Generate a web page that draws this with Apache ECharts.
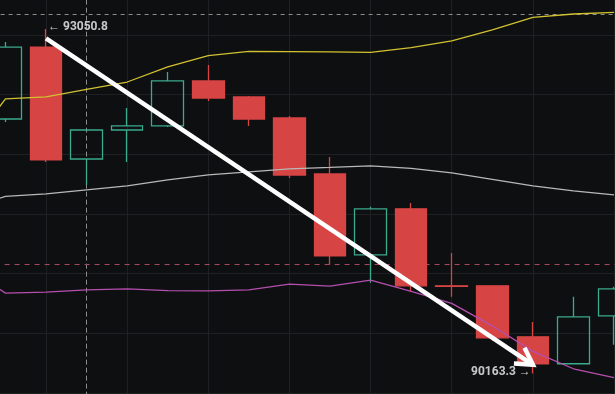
<!DOCTYPE html>
<html>
<head>
<meta charset="utf-8">
<script src="https://cdn.jsdelivr.net/npm/echarts/dist/echarts.min.js"></script>
<style>
html,body{margin:0;padding:0;background:#0e0f11;}
#chart{width:615px;height:394px;}
</style>
</head>
<body>
<div id="chart"></div>
<script>
// ---- data ----
const categories = ['t0','t1','t2','t3','t4','t5','t6','t7','t8','t9','t10','t11','t12','t13','t14','t15','t16'];
// [open, close, low, high]
const candles = [
  '-',
  [92296, 92899, 92271, 92941],
  [92899, 91953, 91936, 93050.8],
  [91961, 92204, 91744, 92204],
  [92204, 92238, 91936, 92389],
  [92238, 92615, 92230, 92690],
  [92615, 92472, 92447, 92749],
  [92481, 92296, 92238, 92489],
  [92305, 91827, 91802, 92322],
  [91836, 91149, 91074, 91978],
  [91157, 91543, 90923, 91560],
  [91543, 90898, 90848, 91593],
  [90898, 90894, 90806, 91174],
  [90898, 90462, 90437, 90900],
  [90471, 90245, 90163.3, 90596],
  [90245, 90638, 90240, 90806],
  [90647, 90873, 90404, 90890]
];
const bollUpper  = [92020, 92464, 92481, 92545, 92606, 92732, 92828, 92863, 92860, 92858, 92855, 92895, 92950, 93042, 93148, 93176, 93190];
const bollMiddle = [91545, 91647, 91668, 91702, 91735, 91786, 91828, 91853, 91878, 91890, 91903, 91882, 91844, 91790, 91735, 91694, 91660];
const bollLower  = [91065, 90837, 90845, 90864, 90873, 90858, 90856, 90864, 90912, 90895, 90946, 90852, 90751, 90563, 90349, 90203, 90128];
const yTicks = [89500, 93500, 500];            // min, max, interval
const vGridCats = ['t2','t4','t6','t8','t10','t12','t14','t16'];
const crosshairCat = 't3';
const crosshairPrice = 93173;
const lastPrice = 91078;
const trendArrow = [[2, 92972, 14.05, 90236]]; // [x0, y0, x1, y1]
const highLabel = { x: 2, y: 93050.8, text: '\u2190 93050.8' };
const lowLabel  = { x: 14, y: 90163.3, text: '90163.3 \u2192' };

// ---- colors ----
const C = {
  bg: '#0e0f11', grid: '#1e2024', red: '#d64444', green: '#3bab8d',
  upper: '#d2c232', middle: '#b8b8b8', lower: '#b54fae',
  dashGrey: '#8c8c8c', dashPink: '#a9475f', text: '#f6f6f6'
};

const chart = echarts.init(document.getElementById('chart'), null, {renderer: 'canvas'});

const markGrid = vGridCats.map(c => ({ xAxis: c, lineStyle: { color: C.grid, width: 1, type: 'solid' } }));
markGrid.push({ xAxis: crosshairCat, lineStyle: { color: C.dashGrey, width: 1, type: [5, 3] } });
markGrid.push({ yAxis: crosshairPrice, lineStyle: { color: C.dashGrey, width: 1, type: [4, 4] } });
markGrid.push({ yAxis: lastPrice, lineStyle: { color: C.dashPink, width: 1, type: [5, 5] } });

const option = {
  backgroundColor: C.bg,
  animation: false,
  grid: { left: -55.4, right: -19.3, top: -24.67, bottom: -58.67, containLabel: false, outerBoundsMode: 'none' },
  xAxis: {
    type: 'category', data: categories, boundaryGap: true,
    axisLine: { show: false }, axisTick: { show: false }, axisLabel: { show: false },
    splitLine: { show: false }
  },
  yAxis: {
    type: 'value', min: yTicks[0], max: yTicks[1], interval: yTicks[2], scale: true,
    axisLine: { show: false }, axisTick: { show: false }, axisLabel: { show: false },
    splitLine: { show: true, lineStyle: { color: C.grid, width: 1 } }
  },
  series: [
    {
      type: 'line', data: [], z: 1, silent: true,
      markLine: { z: 1, silent: true, symbol: 'none', label: { show: false }, data: markGrid, animation: false }
    },
    {
      type: 'candlestick', data: candles, z: 2, barWidth: 32,
      itemStyle: {
        color: 'rgba(0,0,0,0)', color0: C.red,
        borderColor: C.green, borderColor0: C.red, borderWidth: 1.3
      }
    },
    { type: 'line', data: bollUpper, z: 3, symbol: 'none', lineStyle: { color: C.upper, width: 1.3 } },
    { type: 'line', data: bollMiddle, z: 3, symbol: 'none', lineStyle: { color: C.middle, width: 1.3 } },
    { type: 'line', data: bollLower, z: 3, symbol: 'none', lineStyle: { color: C.lower, width: 1.3 } },
    {
      type: 'custom', data: trendArrow, z: 4, silent: true,
      renderItem: function (params, api) {
        const p0 = api.coord([api.value(0), api.value(1)]);
        const p1 = api.coord([api.value(2), api.value(3)]);
        const ang = Math.atan2(p1[1] - p0[1], p1[0] - p0[0]);
        const L = 19, a = Math.PI / 6;
        const h1 = [p1[0] - L * Math.cos(ang - a), p1[1] - L * Math.sin(ang - a)];
        const h2 = [p1[0] - L * Math.cos(ang + a), p1[1] - L * Math.sin(ang + a)];
        return {
          type: 'group',
          children: [
            { type: 'line', shape: { x1: p0[0], y1: p0[1], x2: p1[0], y2: p1[1] },
              style: { stroke: '#ffffff', lineWidth: 4.5, lineCap: 'butt' } },
            { type: 'polyline', shape: { points: [h1, p1, h2] },
              style: { stroke: '#ffffff', fill: null, lineWidth: 4.5, lineJoin: 'miter' } }
          ]
        };
      }
    },
    {
      type: 'scatter', z: 5, symbolSize: 0, silent: true,
      data: [
        { value: [highLabel.x, highLabel.y], label: { show: true, position: 'right', distance: 2, offset: [0, -1.5], formatter: highLabel.text } },
        { value: [lowLabel.x, lowLabel.y], label: { show: true, position: 'left', distance: 2, offset: [0, -1.5], formatter: lowLabel.text } }
      ],
      label: { color: C.text, fontSize: 12, fontWeight: 'bold', fontFamily: 'Roboto, "Noto Sans", sans-serif' }
    }
  ]
};
chart.setOption(option);
</script>
</body>
</html>
